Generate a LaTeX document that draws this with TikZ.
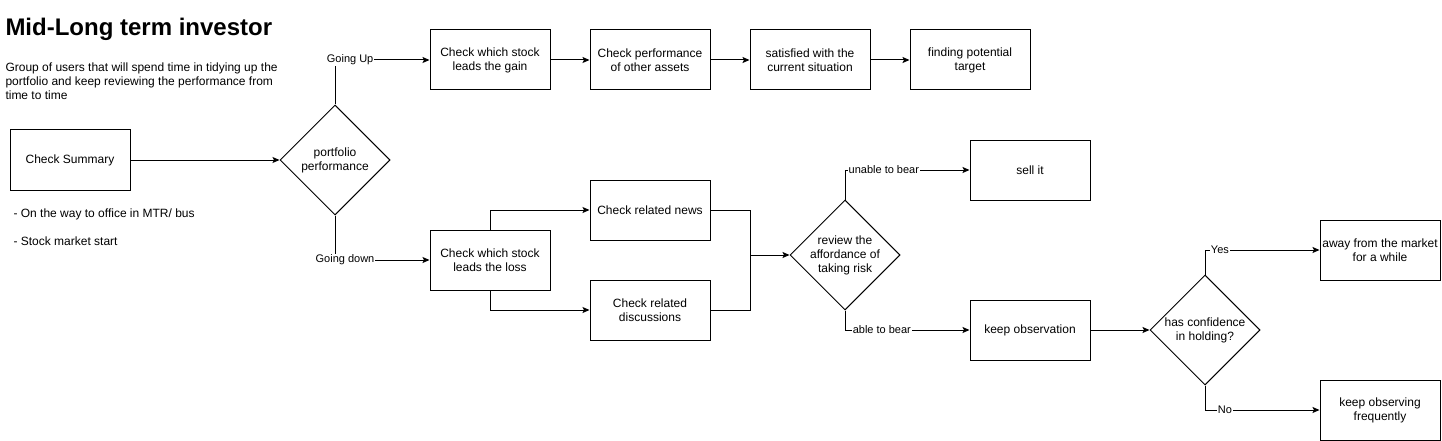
\documentclass[tikz,border=0pt]{standalone}
\usepackage{fontspec}
\setmainfont{Liberation Sans}
\usetikzlibrary{positioning, arrows.meta, shapes.geometric}
\tikzset{%
	>={Stealth[length = 7pt, width = 6pt, inset = 1.5pt]},
	act/.style = {name = #1, rectangle, draw, minimum width = 120pt, minimum height = 60pt, inner sep = 2pt, align = center, font = \fontsize{12}{14}\selectfont},
	dec/.style = {name = #1, diamond, draw, minimum width = 110pt, minimum height = 110pt, inner sep = 0pt, align = center, font = \fontsize{12}{14}\selectfont},
	lbl/.style = {fill = white, inner sep = 1pt, font = \fontsize{11}{13}\selectfont},
	txt/.style = {inner sep = 0pt, align = left, font = \fontsize{12}{14}\selectfont}
}
\begin{document}
\begin{tikzpicture}[x = 1pt, y = -1pt, line width = 1pt]
			\useasboundingbox (0,0) rectangle (1442,441);
			% heading and notes
			\node [anchor = base west, inner sep = 0pt, font = \fontsize{24}{28}\selectfont\bfseries] (title) at (5,36) {Mid-Long term investor};
			\node [txt, anchor = north west] (desc) at (5,62) {Group of users that will spend time in tidying up the\\portfolio and keep reviewing the performance from\\time to time};
			\node [txt, anchor = base west] (note1) at (13,217) {- On the way to office in MTR/ bus};
			\node [txt, anchor = base west] (note2) at (13,245) {- Stock market start};
			% steps
			\node [act = {sum}] at (70,160) {Check Summary};
			\node [dec = {pp}] at (335,160) {portfolio\\performance};
			\node [act = {gain}] at (490,60) {Check which stock\\leads the gain};
			\node [act = {oth}] at (650,60) {Check performance\\of other assets};
			\node [act = {sat}] at (810,60) {satisfied with the\\current situation};
			\node [act = {tgt}] at (970,60) {finding potential\\target};
			\node [act = {loss}] at (490,260) {Check which stock\\leads the loss};
			\node [act = {news}] at (650,210) {Check related news};
			\node [act = {disc}] at (650,310) {Check related\\discussions};
			\node [dec = {rev}] at (845,255) {review the\\affordance of\\taking risk};
			\node [act = {sell}] at (1030,170) {sell it};
			\node [act = {obs}] at (1030,330) {keep observation};
			\node [dec = {conf}] at (1205,330) {has confidence\\in holding?};
			\node [act = {away}] at (1380,250) {away from the market\\for a while};
			\node [act = {freq}] at (1380,410) {keep observing\\frequently};
			\coordinate (mrg) at (750,255);
			% connectors
			\path [->] (sum) edge (pp);
			\draw [->] (pp.north) |- node [lbl, pos = 0.58] {Going Up} (gain);
			\path [->] (gain) edge (oth);
			\path [->] (oth) edge (sat);
			\path [->] (sat) edge (tgt);
			\draw [->] (pp.south) |- node [lbl, pos = 0.553] {Going down} (loss);
			\draw [->] (loss.north) |- (news);
			\draw [->] (loss.south) |- (disc);
			\draw (news.east) -| (mrg);
			\draw (disc.east) -| (mrg);
			\path [->] (mrg) edge (rev);
			\draw [->] (rev.north) |- node [lbl, pos = 0.656] {unable to bear} (sell);
			\draw [->] (rev.south) |- node [lbl, pos = 0.648] {able to bear} (obs);
			\path [->] (obs) edge (conf);
			\draw [->] (conf.north) |- node [lbl, pos = 0.565] {Yes} (away);
			\draw [->] (conf.south) |- node [lbl, pos = 0.587] {No} (freq);
\end{tikzpicture}
\end{document}
